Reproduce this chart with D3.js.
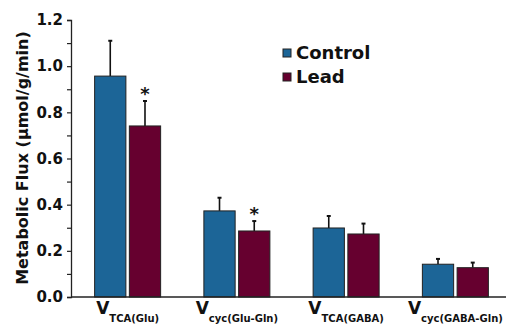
<!DOCTYPE html>
<head>
  <meta charset="UTF-8">
  <style>
    body { margin: 0; background: #fff; }
    svg { display: block; }
    text { font-family: "DejaVu Sans", Arial, sans-serif; font-weight: bold; fill: #111; }
  </style>
</head>
<body>
<script src="https://d3js.org/d3.v7.min.js"></script>
<div id="chart"></div>
<script>
  // data
  var groups = ["TCA(Glu)", "cyc(Glu-Gln)", "TCA(GABA)", "cyc(GABA-Gln)"];
  var series = ["Control", "Lead"];
  var controlMean = [0.957, 0.373, 0.299, 0.142];
  var controlErr  = [0.153, 0.057, 0.052, 0.023];
  var leadMean    = [0.741, 0.286, 0.273, 0.127];
  var leadErr     = [0.108, 0.043, 0.045, 0.022];
  var leadStar    = [true, true, false, false];
  var yTicks = [0, 0.2, 0.4, 0.6, 0.8, 1.0, 1.2];

  var colors = {Control: "#1c6597", Lead: "#66002f"};

  var width = 506, height = 325;
  var svg = d3.select("#chart").append("svg")
    .attr("width", width)
    .attr("height", height);

  var x0 = d3.scaleBand().domain(groups).range([73, 510]);
  var x1 = d3.scaleBand().domain(series).range([-33, 33]).paddingInner(0.1);
  var y = d3.scaleLinear().domain([0, 1.2]).range([297, 20]);

  var rows = [];
  groups.forEach(function(g, i) {
    rows.push({g: g, s: "Control", v: controlMean[i], e: controlErr[i], star: false});
    rows.push({g: g, s: "Lead", v: leadMean[i], e: leadErr[i], star: leadStar[i]});
  });

  function cx(d) { return x0(d.g) + x0.bandwidth() / 2 + x1(d.s) + x1.bandwidth() / 2; }

  // error bars (upper only)
  var eb = svg.append("g").attr("stroke", "#111").attr("stroke-width", 1.6);
  eb.selectAll(".v").data(rows).join("line")
    .attr("x1", cx).attr("x2", cx)
    .attr("y1", function(d) { return y(d.v); })
    .attr("y2", function(d) { return y(d.v + d.e); });
  eb.selectAll(".c").data(rows).join("line")
    .attr("x1", function(d) { return cx(d) - 2; })
    .attr("x2", function(d) { return cx(d) + 2; })
    .attr("y1", function(d) { return y(d.v + d.e); })
    .attr("y2", function(d) { return y(d.v + d.e); })
    .attr("stroke-width", 2);

  // bars
  svg.append("g").selectAll("rect").data(rows).join("rect")
    .attr("x", function(d) { return x0(d.g) + x0.bandwidth() / 2 + x1(d.s); })
    .attr("width", x1.bandwidth())
    .attr("y", function(d) { return y(d.v); })
    .attr("height", function(d) { return y(0) - y(d.v); })
    .attr("fill", function(d) { return colors[d.s]; })
    .attr("stroke", "#222")
    .attr("stroke-width", 1);

  // significance marks
  svg.append("g").selectAll("text").data(rows.filter(function(d) { return d.star; })).join("text")
    .attr("x", cx)
    .attr("y", function(d) { return y(d.v + d.e) - 1; })
    .attr("text-anchor", "middle")
    .attr("font-size", 18)
    .text("*");

  // y axis
  var yAxis = svg.append("g")
    .attr("transform", "translate(71,0)")
    .call(d3.axisLeft(y).tickValues(d3.range(0, 1.21, 0.1)).tickSize(4)
      .tickFormat(function(d) { return yTicks.some(function(t) { return Math.abs(t - d) < 1e-6; }) ? d3.format(".1f")(d) : ""; }));
  yAxis.select(".domain").attr("stroke", "#222").attr("stroke-width", 1.3);
  yAxis.selectAll(".tick line").attr("stroke", "#222").attr("stroke-width", 1.2);
  yAxis.selectAll(".tick text")
    .attr("x", -8)
    .style("font-family", "'DejaVu Sans', Arial, sans-serif")
    .style("font-weight", "bold")
    .style("font-size", "15px")
    .attr("fill", "#111");

  // x axis line
  svg.append("line")
    .attr("x1", 71).attr("x2", 506)
    .attr("y1", y(0)).attr("y2", y(0))
    .attr("stroke", "#222").attr("stroke-width", 1.3);

  // x labels
  var xl = svg.append("g").selectAll("text").data(groups).join("text")
    .attr("x", function(d) { return x0(d) + x0.bandwidth() / 2; })
    .attr("y", 314)
    .attr("text-anchor", "middle");
  xl.append("tspan").attr("font-size", 17).text("V");
  xl.append("tspan").attr("font-size", 10).attr("dy", 8).text(function(d) { return d; });

  // y title
  svg.append("text")
    .attr("transform", "translate(28,158) rotate(-90)")
    .attr("text-anchor", "middle")
    .attr("font-size", 16)
    .text("Metabolic Flux (\u03bcmol/g/min)");

  // legend
  var lg = svg.append("g").attr("transform", "translate(283,49)");
  var li = lg.selectAll("g").data(series).join("g")
    .attr("transform", function(d, i) { return "translate(0," + (i * 24) + ")"; });
  li.append("rect")
    .attr("width", 8).attr("height", 8)
    .attr("fill", function(d) { return colors[d]; })
    .attr("stroke", "#222").attr("stroke-width", 1);
  li.append("text")
    .attr("x", 13).attr("y", 10)
    .attr("font-size", 18)
    .text(function(d) { return d; });
</script>
</body>
</html>
